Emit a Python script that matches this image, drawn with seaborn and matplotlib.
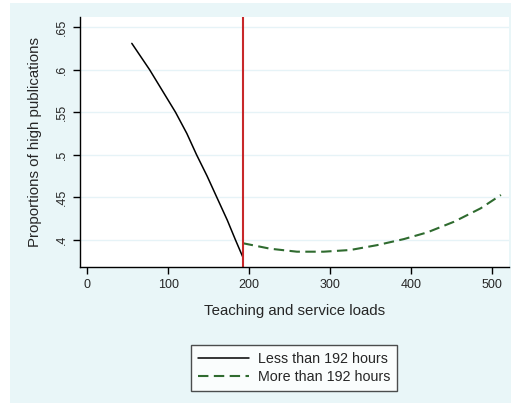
import numpy as np
import pandas as pd
import matplotlib
matplotlib.use("Agg")
import matplotlib.pyplot as plt
from matplotlib.patches import Rectangle
import seaborn as sns

# values
less_x = [55, 77, 93, 109, 123, 135, 148, 160, 173, 183, 192]
less_y = [0.631, 0.600, 0.575, 0.550, 0.525, 0.500, 0.475, 0.450, 0.423, 0.400, 0.380]
more_x = [192, 226, 259, 292, 325, 358, 391, 420, 453, 486, 511]
more_y = [0.396, 0.3895, 0.386, 0.386, 0.388, 0.3937, 0.4008, 0.4087, 0.4212, 0.437, 0.4527]
cutoff = 192
x_ticks = [0, 100, 200, 300, 400, 500]
y_ticks = [0.4, 0.45, 0.5, 0.55, 0.6, 0.65]
y_labels = ['.4', '.45', '.5', '.55', '.6', '.65']

less = pd.DataFrame({'load': less_x, 'prop': less_y})
more = pd.DataFrame({'load': more_x, 'prop': more_y})

sns.set_style("white")
plt.rcParams['font.family'] = ['Liberation Sans', 'DejaVu Sans']

bg = '#e9f6f8'
fig = plt.figure(figsize=(5.11, 4.03), dpi=100)
fig.patch.set_facecolor('white')
fig.patches.append(Rectangle((10 / 511, 0), 1, 400 / 403, transform=fig.transFigure,
                             facecolor=bg, edgecolor='none', zorder=-10))
ax = fig.add_axes([80 / 511, 136 / 403, 429 / 511, 250 / 403])
ax.set_facecolor('white')

sns.lineplot(data=less, x='load', y='prop', ax=ax, color='black', lw=1.1,
             label='Less than 192 hours')
sns.lineplot(data=more, x='load', y='prop', ax=ax, color='#2f6b2f', lw=1.5,
             label='More than 192 hours')
ax.lines[1].set_dashes((5.0, 2.6))
ax.axvline(cutoff, color='#c8282a', lw=1.5)

ax.set_xlim(-9, 521)
ax.set_ylim(0.368, 0.662)
ax.set_xticks(x_ticks)
ax.set_yticks(y_ticks)
ax.set_yticklabels(y_labels, rotation=90, va='center')
ax.grid(axis='y', color='#e6f3f7', lw=1.0)
ax.grid(axis='x', visible=False)

for s in ['top', 'right']:
    ax.spines[s].set_visible(False)
for s in ['left', 'bottom']:
    ax.spines[s].set_color('black')
    ax.spines[s].set_linewidth(1.0)
ax.tick_params(axis='both', direction='out', length=5, width=1, color='black',
               labelsize=9, left=True, bottom=True, pad=4)

ax.set_xlabel('Teaching and service loads', fontsize=10.8, labelpad=9)
ax.set_ylabel('Proportions of high publications', fontsize=10.8, labelpad=10)

ax.legend_.remove()
h, l = ax.get_legend_handles_labels()
leg = fig.legend(h, l, loc='center', bbox_to_anchor=(294 / 511, 35 / 403),
                 fontsize=10.3, frameon=True, fancybox=False, handlelength=3.6,
                 borderpad=0.5, labelspacing=0.3, handletextpad=0.6)
leg.get_frame().set_edgecolor('#222222')
leg.get_frame().set_linewidth(1.0)
leg.get_frame().set_facecolor('white')

fig.savefig('out.png', dpi=100, facecolor=fig.get_facecolor())
